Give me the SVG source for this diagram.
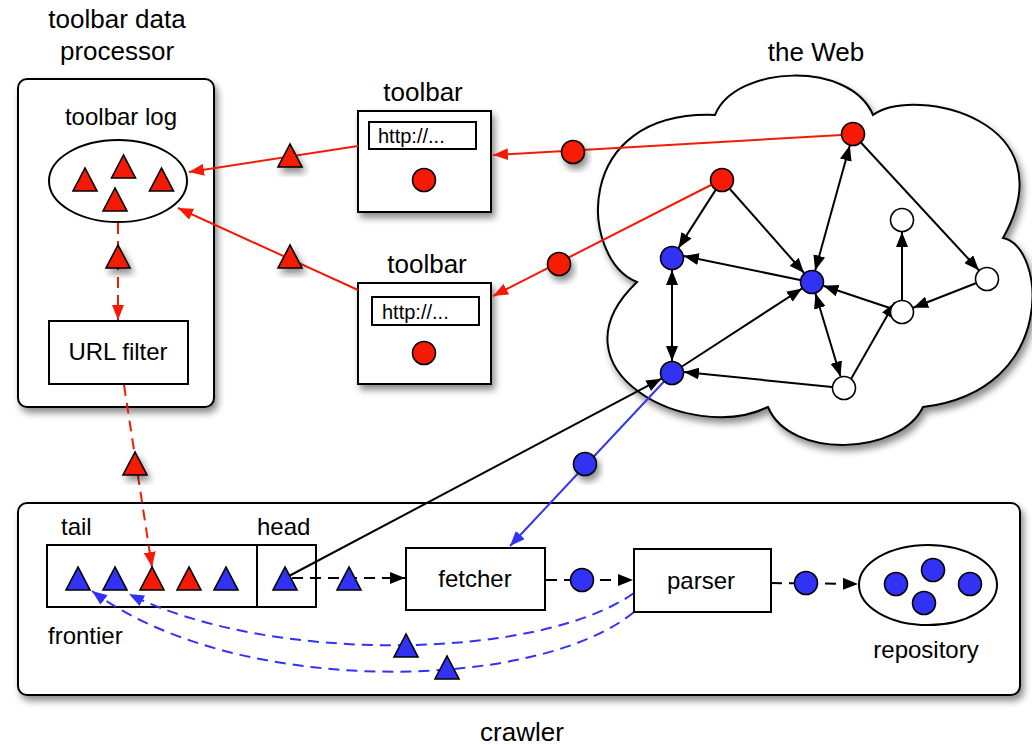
<svg xmlns="http://www.w3.org/2000/svg" xmlns:xlink="http://www.w3.org/1999/xlink" width="1032" height="745" viewBox="0 0 1032 745">
  <style>
    text { font-family: "Liberation Sans", Arial, Helvetica, sans-serif; fill: #000; }
    .title { font-size: 26px; text-anchor: middle; }
    .lbl { font-size: 24px; }
    .mid { text-anchor: middle; }
    .url { font-size: 20px; }
    .box { fill: #fff; stroke: #000; stroke-width: 2; }
    .open { fill: none; stroke: #000; stroke-width: 2; }
    .edge { fill: none; stroke: #000; stroke-width: 2; }
    .red { fill: #f51a06; }
    .blue { fill: #3232f5; }
    .white { fill: #fff; }
    .tok { stroke: #000; stroke-width: 1.6; }
    .lred { fill: none; stroke: #f51a06; stroke-width: 2; }
    .lblue { fill: none; stroke: #3232f5; stroke-width: 2; }
    .dash { stroke-dasharray: 11 7; }
    .sh { filter: url(#sh); }
  </style>
  <defs>
    <filter id="sh" x="-20%" y="-20%" width="150%" height="160%">
      <feDropShadow dx="3" dy="5" stdDeviation="3.5" flood-color="#000" flood-opacity="0.45"/>
    </filter>
    <marker id="ah-k" markerUnits="userSpaceOnUse" markerWidth="15" markerHeight="12" refX="15" refY="6" orient="auto-start-reverse">
      <path d="M0,0 L15,6 L0,12 z" fill="#000"/>
    </marker>
    <marker id="ah-r" markerUnits="userSpaceOnUse" markerWidth="15" markerHeight="12" refX="15" refY="6" orient="auto-start-reverse">
      <path d="M0,0 L15,6 L0,12 z" fill="#f51a06"/>
    </marker>
    <marker id="ah-b" markerUnits="userSpaceOnUse" markerWidth="15" markerHeight="12" refX="15" refY="6" orient="auto-start-reverse">
      <path d="M0,0 L15,6 L0,12 z" fill="#3232f5"/>
    </marker>
    <polygon id="tri" points="0,-12 -12,11 12,11"/>
    <circle id="dot" r="11.5"/>
  </defs>

  <rect width="1032" height="745" fill="#fff"/>

  <!-- toolbar data processor panel -->
  <g id="toolbar-data-processor">
    <text class="title" x="117" y="28">toolbar data</text>
    <text class="title" x="117" y="60">processor</text>
    <rect class="box sh" x="18" y="79" width="196" height="328" rx="9"/>
    <text class="lbl mid" x="121" y="125">toolbar log</text>
  </g>

  <!-- crawler panel -->
  <g id="crawler">
    <rect class="box sh" x="18" y="503" width="1002" height="192" rx="9"/>
    <text class="title" x="522" y="741">crawler</text>
  </g>

  <!-- the Web cloud -->
  <g id="web">
    <text class="title" x="816" y="61">the Web</text>
    <path class="box sh" d="M715,115 C735,65 850,60 873,115 C915,85 1070,120 1003,238 C1045,245 1060,390 923,407 C900,455 790,460 768,407 C690,445 545,370 637,282 C580,260 570,110 715,115 Z"/>
  </g>

  <!-- toolbars -->
  <g id="toolbar-1">
    <text class="title" x="423" y="101">toolbar</text>
    <rect class="box sh" x="358" y="111" width="133" height="101"/>
    <rect class="box" x="369" y="122" width="107" height="27"/>
    <text class="url" x="378" y="143">http://...</text>
    <use href="#dot" class="red tok" x="424" y="180"/>
  </g>
  <g id="toolbar-2">
    <text class="title" x="427" y="273">toolbar</text>
    <rect class="box sh" x="358" y="283" width="133" height="101"/>
    <rect class="box" x="372" y="297" width="107" height="28"/>
    <text class="url" x="382" y="319">http://...</text>
    <use href="#dot" class="red tok" x="424" y="353"/>
  </g>

  <!-- frontier queue outline (open, so connectors show inside it) -->
  <g id="frontier">
    <text class="lbl" x="61" y="535">tail</text>
    <text class="lbl" x="257" y="535">head</text>
    <text class="lbl" x="48" y="644">frontier</text>
    <rect class="open" x="47" y="545" width="269" height="62"/>
    <line class="edge" x1="257" y1="545" x2="257" y2="607"/>
  </g>

  <!-- connectors -->
  <g id="connectors">
    <!-- page visits reported by toolbars -->
    <line class="lred" x1="841.5" y1="135" x2="493" y2="155" marker-end="url(#ah-r)"/>
    <line class="lred" x1="358" y1="146" x2="189" y2="172" marker-end="url(#ah-r)"/>
    <line class="lred" x1="711" y1="185" x2="493" y2="296" marker-end="url(#ah-r)"/>
    <line class="lred" x1="358" y1="290" x2="178" y2="208" marker-end="url(#ah-r)"/>
    <line class="lred dash" x1="118" y1="223" x2="118" y2="320" marker-end="url(#ah-r)"/>
    <line class="lred dash" x1="124" y1="385" x2="152" y2="567" marker-end="url(#ah-r)"/>

    <!-- links between web pages -->
    <line class="edge" x1="715.5" y1="190.1" x2="678.5" y2="247.9" marker-end="url(#ah-k)"/>
    <line class="edge" x1="729.9" y1="189" x2="804.1" y2="273" marker-end="url(#ah-k)"/>
    <line class="edge" x1="849.8" y1="145.6" x2="815.2" y2="270.4" marker-start="url(#ah-k)" marker-end="url(#ah-k)"/>
    <line class="edge" x1="861.1" y1="142.8" x2="978.9" y2="270.2" marker-end="url(#ah-k)"/>
    <line class="edge" x1="800.2" y1="280" x2="683.8" y2="256" marker-end="url(#ah-k)"/>
    <line class="edge" x1="672" y1="270" x2="672" y2="361" marker-start="url(#ah-k)" marker-end="url(#ah-k)"/>
    <line class="edge" x1="682" y1="366.5" x2="802" y2="288.5" marker-end="url(#ah-k)"/>
    <line class="edge" x1="815.5" y1="293.5" x2="840.5" y2="376.5" marker-start="url(#ah-k)" marker-end="url(#ah-k)"/>
    <line class="edge" x1="890.6" y1="308.2" x2="823.4" y2="285.8" marker-end="url(#ah-k)"/>
    <line class="edge" x1="902" y1="300" x2="902" y2="232" marker-end="url(#ah-k)"/>
    <line class="edge" x1="975.8" y1="283.3" x2="913.2" y2="307.7" marker-end="url(#ah-k)"/>
    <line class="edge" x1="832" y1="387" x2="684" y2="372" marker-end="url(#ah-k)"/>
    <line class="edge" x1="851.3" y1="378.5" x2="894.7" y2="302.5" marker-end="url(#ah-k)"/>

    <!-- crawler fetch loop -->
    <line class="edge" x1="289" y1="576" x2="661.4" y2="378.7" marker-end="url(#ah-k)"/>
    <line class="lblue" x1="663.8" y1="381.8" x2="510" y2="546" marker-end="url(#ah-b)"/>
    <line class="edge dash" x1="292" y1="578" x2="405" y2="578" marker-end="url(#ah-k)"/>
    <line class="edge dash" x1="546" y1="580" x2="633" y2="580" marker-end="url(#ah-k)"/>
    <line class="edge dash" x1="771" y1="583" x2="858" y2="584" marker-end="url(#ah-k)"/>
    <path class="lblue dash" d="M634,593 C540,660 270,665 129,594" marker-end="url(#ah-b)"/>
    <path class="lblue dash" d="M634,612 C540,690 240,700 92,591" marker-end="url(#ah-b)"/>
  </g>

  <!-- toolbar log -->
  <g id="toolbar-log">
    <ellipse class="box" cx="118" cy="181" rx="69" ry="41"/>
    <use href="#tri" class="red tok" x="85" y="180"/>
    <use href="#tri" class="red tok" x="123.5" y="167"/>
    <use href="#tri" class="red tok" x="161.5" y="180"/>
    <use href="#tri" class="red tok" x="115" y="200"/>
  </g>

  <!-- URL filter -->
  <g id="url-filter">
    <rect class="box" x="49" y="321" width="139" height="63"/>
    <text class="lbl mid" x="118" y="360">URL filter</text>
  </g>

  <!-- web pages -->
  <g id="web-pages">
    <use href="#dot" class="red tok" x="853" y="134"/>
    <use href="#dot" class="red tok" x="722" y="180"/>
    <use href="#dot" class="blue tok" x="672" y="258"/>
    <use href="#dot" class="blue tok" x="812" y="282"/>
    <use href="#dot" class="blue tok" x="672" y="373"/>
    <use href="#dot" class="white tok" x="902" y="220"/>
    <use href="#dot" class="white tok" x="987" y="279"/>
    <use href="#dot" class="white tok" x="902" y="312"/>
    <use href="#dot" class="white tok" x="844" y="388"/>
  </g>

  <!-- queued URLs -->
  <g id="frontier-items">
    <use href="#tri" class="blue tok" x="78" y="579"/>
    <use href="#tri" class="blue tok" x="115" y="579"/>
    <use href="#tri" class="red tok" x="152" y="579"/>
    <use href="#tri" class="red tok" x="189" y="579"/>
    <use href="#tri" class="blue tok" x="226" y="579"/>
    <use href="#tri" class="blue tok" x="285" y="579"/>
  </g>

  <!-- fetcher -->
  <g id="fetcher">
    <rect class="box" x="406" y="548" width="139" height="62"/>
    <text class="lbl mid" x="475" y="587">fetcher</text>
  </g>

  <!-- parser -->
  <g id="parser">
    <rect class="box" x="634" y="549" width="137" height="63"/>
    <text class="lbl mid" x="701" y="589">parser</text>
  </g>

  <!-- repository -->
  <g id="repository">
    <ellipse class="box" cx="928" cy="585" rx="69" ry="40"/>
    <use href="#dot" class="blue tok" x="896" y="584"/>
    <use href="#dot" class="blue tok" x="933" y="570"/>
    <use href="#dot" class="blue tok" x="970" y="584"/>
    <use href="#dot" class="blue tok" x="924" y="603"/>
    <text class="lbl mid" x="926" y="658">repository</text>
  </g>

  <!-- items travelling along connectors -->
  <g id="tokens">
    <use href="#dot" class="red tok sh" x="573" y="152"/>
    <use href="#dot" class="red tok sh" x="559" y="264"/>
    <use href="#tri" class="red tok sh" x="290" y="156"/>
    <use href="#tri" class="red tok sh" x="290" y="257"/>
    <use href="#tri" class="red tok sh" x="118" y="257"/>
    <use href="#tri" class="red tok sh" x="135" y="464"/>
    <use href="#dot" class="blue tok sh" x="585" y="464"/>
    <use href="#tri" class="blue tok" x="349" y="579"/>
    <use href="#dot" class="blue tok" x="582" y="580"/>
    <use href="#dot" class="blue tok" x="806" y="583"/>
    <use href="#tri" class="blue tok" x="406" y="646"/>
    <use href="#tri" class="blue tok" x="447" y="668"/>
  </g>
</svg>
